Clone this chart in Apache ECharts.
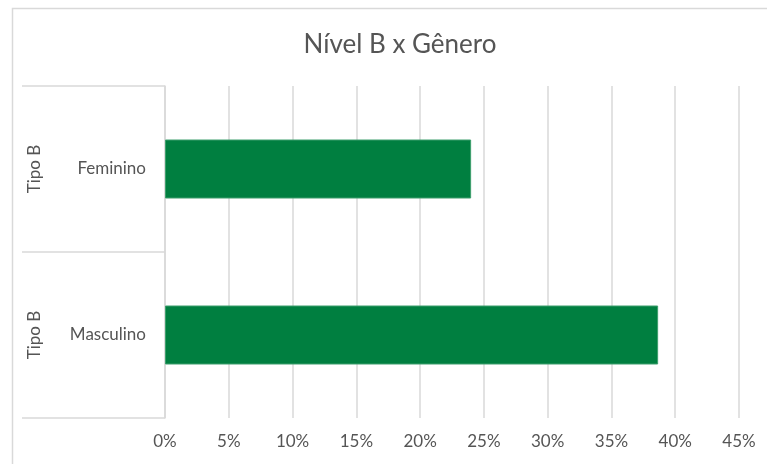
<!DOCTYPE html>
<html><head><meta charset="utf-8">
<script src="https://cdn.jsdelivr.net/npm/echarts@6/dist/echarts.min.js"></script>
<style>html,body{margin:0;padding:0;background:#fff}#c{width:767px;height:464px}</style>
</head><body><div id="c"></div>
<script>
const title = 'Nível B x Gênero';
const categories = ['Feminino', 'Masculino'];
const groups = ['Tipo B', 'Tipo B'];
const values = [0.240, 0.3866];
const tickMin = 0, tickMax = 0.45, tickStep = 0.05;

const chart = echarts.init(document.getElementById('c'), null, {renderer: 'canvas'});
const FONT = 'Lato';
const GRAY = '#555555';
const LINE = '#d9d9d9';
chart.setOption({
  animation: false,
  backgroundColor: '#fff',
  title: {
    text: title, left: 395, top: 27, textAlign: 'center',
    textStyle: {fontFamily: FONT, fontSize: 26, fontWeight: 'normal', color: GRAY}
  },
  graphic: [{
    type: 'rect', left: 10, top: 6, silent: true,
    shape: {width: 820, height: 520},
    style: {fill: null, stroke: LINE, lineWidth: 1.5}
  }],
  grid: {left: 165, right: 28, top: 86, bottom: 46, containLabel: false},
  xAxis: {
    type: 'value', min: tickMin, max: tickMax, interval: tickStep,
    axisLine: {show: false}, axisTick: {show: false},
    splitLine: {show: true, lineStyle: {color: LINE, width: 1.5}},
    axisLabel: {
      color: GRAY, fontFamily: FONT, fontSize: 17, margin: 15,
      formatter: v => Math.round(v * 100) + '%'
    }
  },
  yAxis: [{
    type: 'category', data: categories, inverse: true, position: 'left',
    axisLine: {show: true, lineStyle: {color: LINE, width: 1.5}},
    axisTick: {show: true, length: 143, alignWithLabel: false, lineStyle: {color: LINE, width: 1.5}},
    axisLabel: {color: GRAY, fontFamily: FONT, fontSize: 17, margin: 19}
  }, {
    type: 'category', data: groups, inverse: true, position: 'left',
    axisLine: {show: false}, axisTick: {show: false},
    axisLabel: {color: GRAY, fontFamily: FONT, fontSize: 17, margin: 122, rotate: 90}
  }],
  series: [{
    type: 'bar', yAxisIndex: 0, data: values, barWidth: 59,
    itemStyle: {color: '#007f40', borderColor: '#3d9e6c', borderWidth: 1}
  }]
});
</script></body></html>
